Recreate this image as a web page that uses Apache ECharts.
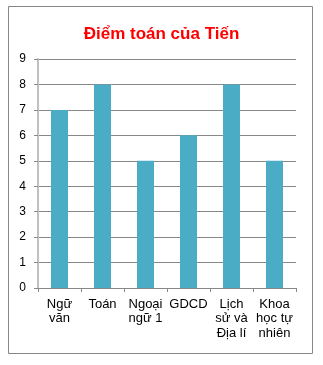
<!DOCTYPE html>
<html><head><meta charset="utf-8">
<script src="https://cdn.jsdelivr.net/npm/echarts@6/dist/echarts.min.js"></script>
<style>html,body{margin:0;padding:0;background:#fff}#c{width:323px;height:365px}</style>
</head><body><div id="c"></div>
<script>
const categories = ["Ngữ\nvăn", "Toán", "Ngoại\nngữ 1", "GDCD", "Lịch\nsử và\nĐịa lí", "Khoa\nhọc tự\nnhiên"];
const scores = [7, 8, 5, 6, 8, 5];
const yTicks = [0, 1, 2, 3, 4, 5, 6, 7, 8, 9];
const title = "Điểm toán của Tiến";

const chart = echarts.init(document.getElementById('c'), null, {renderer: 'canvas'});
chart.setOption({
  animation: false,
  backgroundColor: '#fff',
  title: {
    text: title, left: 'center', top: 21,
    textStyle: {color: '#ff0000', fontSize: 17, fontWeight: 'bold', fontFamily: 'Liberation Sans'}
  },
  graphic: [{
    type: 'rect', shape: {x: 8.5, y: 6.5, width: 304, height: 347},
    style: {fill: 'none', stroke: '#878787', lineWidth: 1}, silent: true
  }],
  grid: {left: 38, right: 27, top: 59, bottom: 77},
  xAxis: {
    type: 'category', data: categories,
    axisLine: {lineStyle: {color: '#888', width: 1}},
    axisTick: {show: true, length: 4, lineStyle: {color: '#888'}},
    axisLabel: {color: '#000', fontSize: 13, fontFamily: 'Liberation Sans', lineHeight: 14.5, margin: 9, interval: 0}
  },
  yAxis: {
    type: 'value', min: 0, max: yTicks[yTicks.length - 1], interval: 1,
    axisLine: {show: true, lineStyle: {color: '#c0c0c0', width: 2}},
    axisTick: {show: true, length: 4, lineStyle: {color: '#888'}},
    axisLabel: {color: '#000', fontSize: 12, fontFamily: 'Liberation Sans', margin: 12},
    splitLine: {lineStyle: {color: '#888', width: 1}}
  },
  series: [{
    type: 'bar', data: scores, barWidth: 17,
    itemStyle: {color: '#4bacc6'}
  }]
});
</script></body></html>
